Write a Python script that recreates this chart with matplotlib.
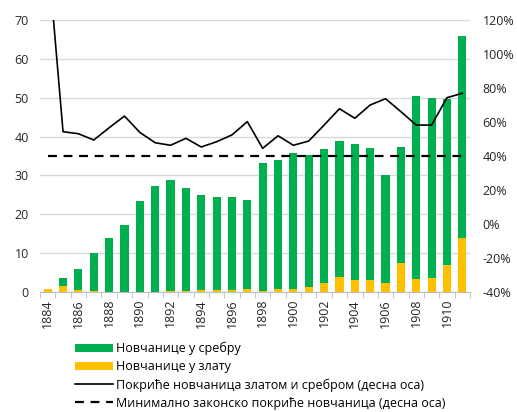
import matplotlib.pyplot as plt
import numpy as np

years = list(range(1884, 1912))
gold = [0.8, 1.5, 0.5, 0.2, 0.1, 0.1, 0.1, 0.1, 0.2, 0.2, 0.5, 0.4, 0.6, 0.8,
        0.3, 0.8, 0.9, 1.2, 2.2, 3.8, 3.2, 3.2, 2.3, 7.5, 3.3, 3.5, 7.0, 14.0]
total = [0.8, 3.5, 5.8, 10.0, 14.0, 17.3, 23.4, 27.3, 28.8, 26.7, 25.0, 24.5, 24.4, 23.6,
         33.3, 34.0, 35.7, 35.3, 36.7, 38.8, 38.0, 37.0, 30.2, 37.3, 50.4, 49.8, 49.6, 65.8]
silver = [t - g for t, g in zip(total, gold)]
coverage = [160, 54.3, 53.1, 49.4, 56.6, 63.5, 53.9, 47.8, 46.3, 50.4, 45.3, 48.4, 52.4, 60.2,
            44.5, 51.9, 46.3, 48.8, 58.2, 67.8, 62.2, 70.0, 73.7, 66.1, 58.2, 58.2, 74.3, 76.9]
minimum = [40] * len(years)

plt.rcParams['font.family'] = ['Open Sans', 'DejaVu Sans']
plt.rcParams['font.size'] = 9

fig = plt.figure(figsize=(5.17, 4.12), dpi=100)
ax = fig.add_axes([40 / 517, 120 / 412, 430 / 517, 272 / 412])
x = np.arange(len(years))

b1 = ax.bar(x, gold, width=0.53, color='#FFC000', zorder=3, label='Новчанице у злату')
b2 = ax.bar(x, silver, width=0.53, bottom=gold, color='#00B050', zorder=3, label='Новчанице у сребру')
ax.set_ylim(0, 70)
ax.set_yticks(range(0, 71, 10))
ax.set_xlim(-0.5, len(years) - 0.5)
ax.grid(axis='y', color='#d9d9d9', linewidth=1, zorder=0)
for s in ['top', 'right', 'left']:
    ax.spines[s].set_visible(False)
ax.spines['bottom'].set_color('#bfbfbf')
ax.tick_params(axis='y', length=0, colors='#262626', labelsize=9, pad=8)
ax.set_xticks(x[::2], [str(y) for y in years[::2]], rotation=90)
ax.set_xticks(np.arange(-0.5, len(years), 1), minor=True)
ax.tick_params(axis='x', which='major', length=0, colors='#262626', labelsize=9, pad=5)
ax.tick_params(axis='x', which='minor', length=4, color='#bfbfbf')

ax2 = ax.twinx()
l1, = ax2.plot(x, coverage, color='black', linewidth=1.2, zorder=4,
               label='Покриће новчаница златом и сребром (десна оса)')
l2, = ax2.plot(x, minimum, color='black', linewidth=1.6, linestyle=(0, (4, 3)), zorder=4,
               label='Минимално законско покриће новчаница (десна оса)')
ax2.set_ylim(-40, 120)
ax2.set_yticks(range(-40, 121, 20), [f'{v}%' for v in range(-40, 121, 20)])
ax2.tick_params(axis='y', length=0, colors='#262626', labelsize=9, pad=9)
for s in ['top', 'right', 'left', 'bottom']:
    ax2.spines[s].set_visible(False)

fig.legend([b2, b1, l1, l2], [h.get_label() for h in [b2, b1, l1, l2]],
           loc='upper left', bbox_to_anchor=(75 / 517, 1 - 342 / 412), frameon=False,
           handlelength=3.0, handletextpad=0.3, labelspacing=0.4, fontsize=9,
           borderaxespad=0, borderpad=0)

fig.savefig('out.png', dpi=100)
